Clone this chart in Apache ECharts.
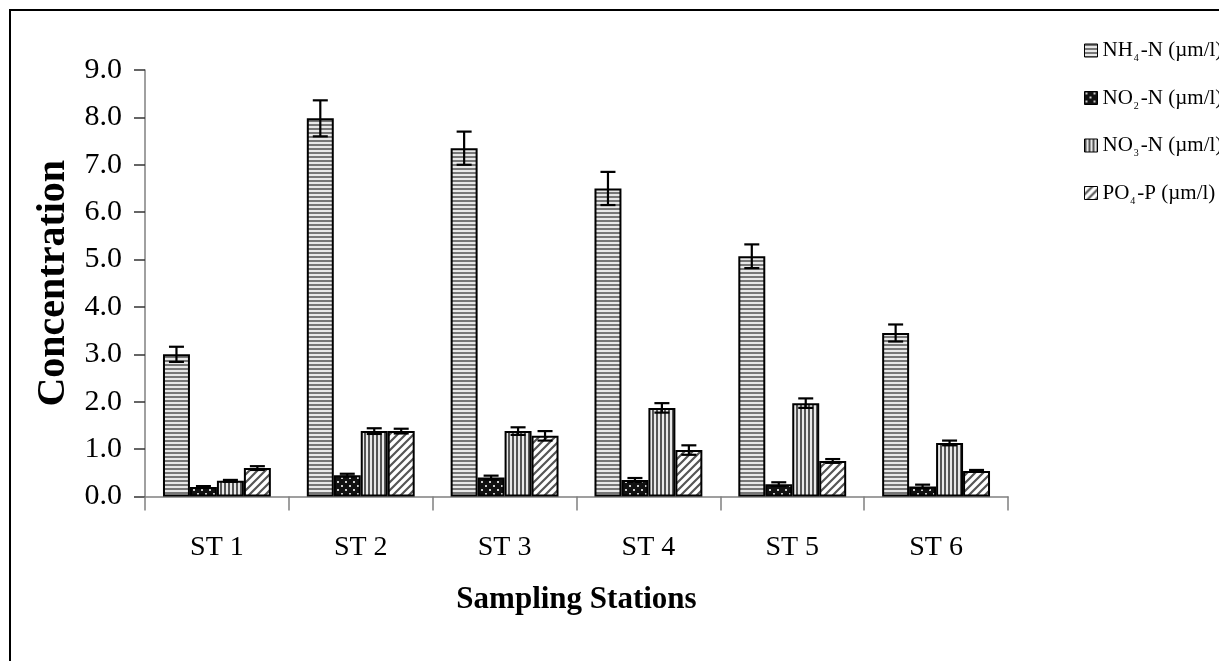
<!DOCTYPE html>
<html>
<head>
<meta charset="utf-8">
<script src="https://cdn.jsdelivr.net/npm/echarts@6/dist/echarts.min.js"></script>
<style>html,body{margin:0;padding:0;background:#fff;}#c{width:1219px;height:661px;}</style>
</head>
<body>
<div id="c"></div>
<script>
const categories = ['ST 1', 'ST 2', 'ST 3', 'ST 4', 'ST 5', 'ST 6'];
const seriesNames = ['NH4-N (µm/l)', 'NO2-N (µm/l)', 'NO3-N (µm/l)', 'PO4-P (µm/l)'];
const nh4 = [3.0, 7.98, 7.35, 6.5, 5.07, 3.45];
const nh4Err = [0.16, 0.38, 0.35, 0.35, 0.25, 0.18];
const no2 = [0.2, 0.45, 0.4, 0.35, 0.26, 0.21];
const no2Err = [0.02, 0.03, 0.04, 0.04, 0.04, 0.04];
const no3 = [0.33, 1.38, 1.38, 1.87, 1.97, 1.13];
const no3Err = [0.02, 0.06, 0.08, 0.1, 0.1, 0.05];
const po4 = [0.6, 1.38, 1.28, 0.98, 0.75, 0.54];
const po4Err = [0.04, 0.05, 0.1, 0.1, 0.04, 0.02];
const yTicks = [0, 1, 2, 3, 4, 5, 6, 7, 8, 9];

function makePattern(kind) {
  const c = document.createElement('canvas');
  const ctx = c.getContext('2d');
  if (kind === 'h') {
    c.width = 6; c.height = 4;
    ctx.fillStyle = '#e8e8e8'; ctx.fillRect(0, 0, 6, 4);
    ctx.fillStyle = '#777'; ctx.fillRect(0, 0, 6, 2);
  } else if (kind === 'dots') {
    c.width = 8; c.height = 8;
    ctx.fillStyle = '#111'; ctx.fillRect(0, 0, 8, 8);
    ctx.fillStyle = '#ccc';
    ctx.fillRect(1, 1, 2, 2); ctx.fillRect(5, 5, 2, 2);
  } else if (kind === 'v') {
    c.width = 4; c.height = 6;
    ctx.fillStyle = '#e8e8e8'; ctx.fillRect(0, 0, 4, 6);
    ctx.fillStyle = '#555'; ctx.fillRect(0, 0, 2, 6);
  } else {
    c.width = 8; c.height = 8;
    ctx.fillStyle = '#fff'; ctx.fillRect(0, 0, 8, 8);
    ctx.strokeStyle = '#555'; ctx.lineWidth = 2.2;
    ctx.beginPath();
    ctx.moveTo(-2, 10); ctx.lineTo(10, -2);
    ctx.moveTo(-6, 6); ctx.lineTo(6, -6);
    ctx.moveTo(2, 14); ctx.lineTo(14, 2);
    ctx.stroke();
  }
  return { image: c, repeat: 'repeat' };
}

const values = [nh4, no2, no3, po4];
const errs = [nh4Err, no2Err, no3Err, po4Err];
const patterns = [makePattern('h'), makePattern('dots'), makePattern('v'), makePattern('d')];
const font = '"Liberation Serif", "Times New Roman", serif';

const series = values.map((v, i) => ({
  name: seriesNames[i],
  type: 'bar',
  data: v,
  barGap: '0%',
  barCategoryGap: '25%',
  itemStyle: { color: patterns[i], borderColor: '#000', borderWidth: 2 },
  emphasis: { disabled: true },
  z: 2
}));

const errData = [];
for (let i = 0; i < 4; i++) {
  for (let j = 0; j < categories.length; j++) {
    errData.push([j, values[i][j], errs[i][j], i]);
  }
}

series.push({
  type: 'custom',
  name: 'err',
  data: errData,
  z: 5,
  silent: true,
  encode: { x: 0, y: 1 },
  renderItem: function (params, api) {
    const cat = api.value(0), val = api.value(1), e = api.value(2), k = api.value(3);
    const bandW = api.size([1, 0])[0];
    const barW = bandW * 0.75 / 4;
    const center = api.coord([cat, val]);
    const x = center[0] + (k - 1.5) * barW;
    const top = api.coord([cat, val + e])[1];
    const bot = api.coord([cat, val - e])[1];
    const hw = 7.5;
    const st = { stroke: '#000', lineWidth: 2.2 };
    return {
      type: 'group',
      children: [
        { type: 'line', shape: { x1: x, y1: top, x2: x, y2: bot }, style: st },
        { type: 'line', shape: { x1: x - hw, y1: top, x2: x + hw, y2: top }, style: st },
        { type: 'line', shape: { x1: x - hw, y1: bot, x2: x + hw, y2: bot }, style: st }
      ]
    };
  }
});

const chart = echarts.init(document.getElementById('c'), null, { renderer: 'canvas' });
chart.setOption({
  animation: false,
  backgroundColor: '#fff',
  textStyle: { fontFamily: font },
  grid: { left: 145, right: 211, top: 70, bottom: 164.5, containLabel: false },
  graphic: [{
    type: 'rect', shape: { x: 10, y: 10, width: 1300, height: 700 },
    style: { fill: 'none', stroke: '#000', lineWidth: 2 }, z: 0, silent: true
  }],
  legend: {
    data: seriesNames,
    orient: 'vertical',
    left: 1079,
    top: 35,
    itemWidth: 13,
    itemHeight: 13,
    itemGap: 24,
    icon: 'rect',
    itemStyle: { borderColor: '#000', borderWidth: 1 },
    formatter: function (name) {
      const m = name.match(/^([A-Z]+)(\d)(-.*)$/);
      return '{a|' + m[1] + '}{s|' + m[2] + '}{a|' + m[3] + '}';
    },
    textStyle: {
      fontFamily: font,
      rich: {
        a: { fontFamily: font, fontSize: 21, color: '#000', lineHeight: 26 },
        s: { fontFamily: font, fontSize: 10, color: '#000', verticalAlign: 'bottom', padding: [8, 2, 0, 1], lineHeight: 26 }
      }
    },
    selectedMode: false
  },
  xAxis: {
    type: 'category',
    data: categories,
    name: 'Sampling Stations',
    nameLocation: 'middle',
    nameGap: 88,
    nameTextStyle: { fontFamily: font, fontSize: 31, fontWeight: 'bold', color: '#000' },
    axisLine: { lineStyle: { color: '#808080', width: 1.5 } },
    axisTick: { show: true, length: 14, alignWithLabel: false, lineStyle: { color: '#808080', width: 1.5 } },
    axisLabel: { fontFamily: font, fontSize: 28, color: '#000', margin: 37 }
  },
  yAxis: {
    type: 'value',
    min: 0, max: 9, interval: 1,
    name: 'Concentration',
    nameLocation: 'middle',
    nameGap: 69,
    nameRotate: 90,
    nameTextStyle: { fontFamily: font, fontSize: 40, fontWeight: 'bold', color: '#000' },
    splitLine: { show: false },
    axisLine: { show: true, lineStyle: { color: '#808080', width: 1.5 } },
    axisTick: { show: true, length: 11, lineStyle: { color: '#333', width: 1.5 } },
    axisLabel: {
      fontFamily: font, fontSize: 30, color: '#000', margin: 23,
      formatter: function (v) { return yTicks.indexOf(v) >= 0 ? v.toFixed(1) : ''; }
    }
  },
  series: series
});
</script>
</body>
</html>
